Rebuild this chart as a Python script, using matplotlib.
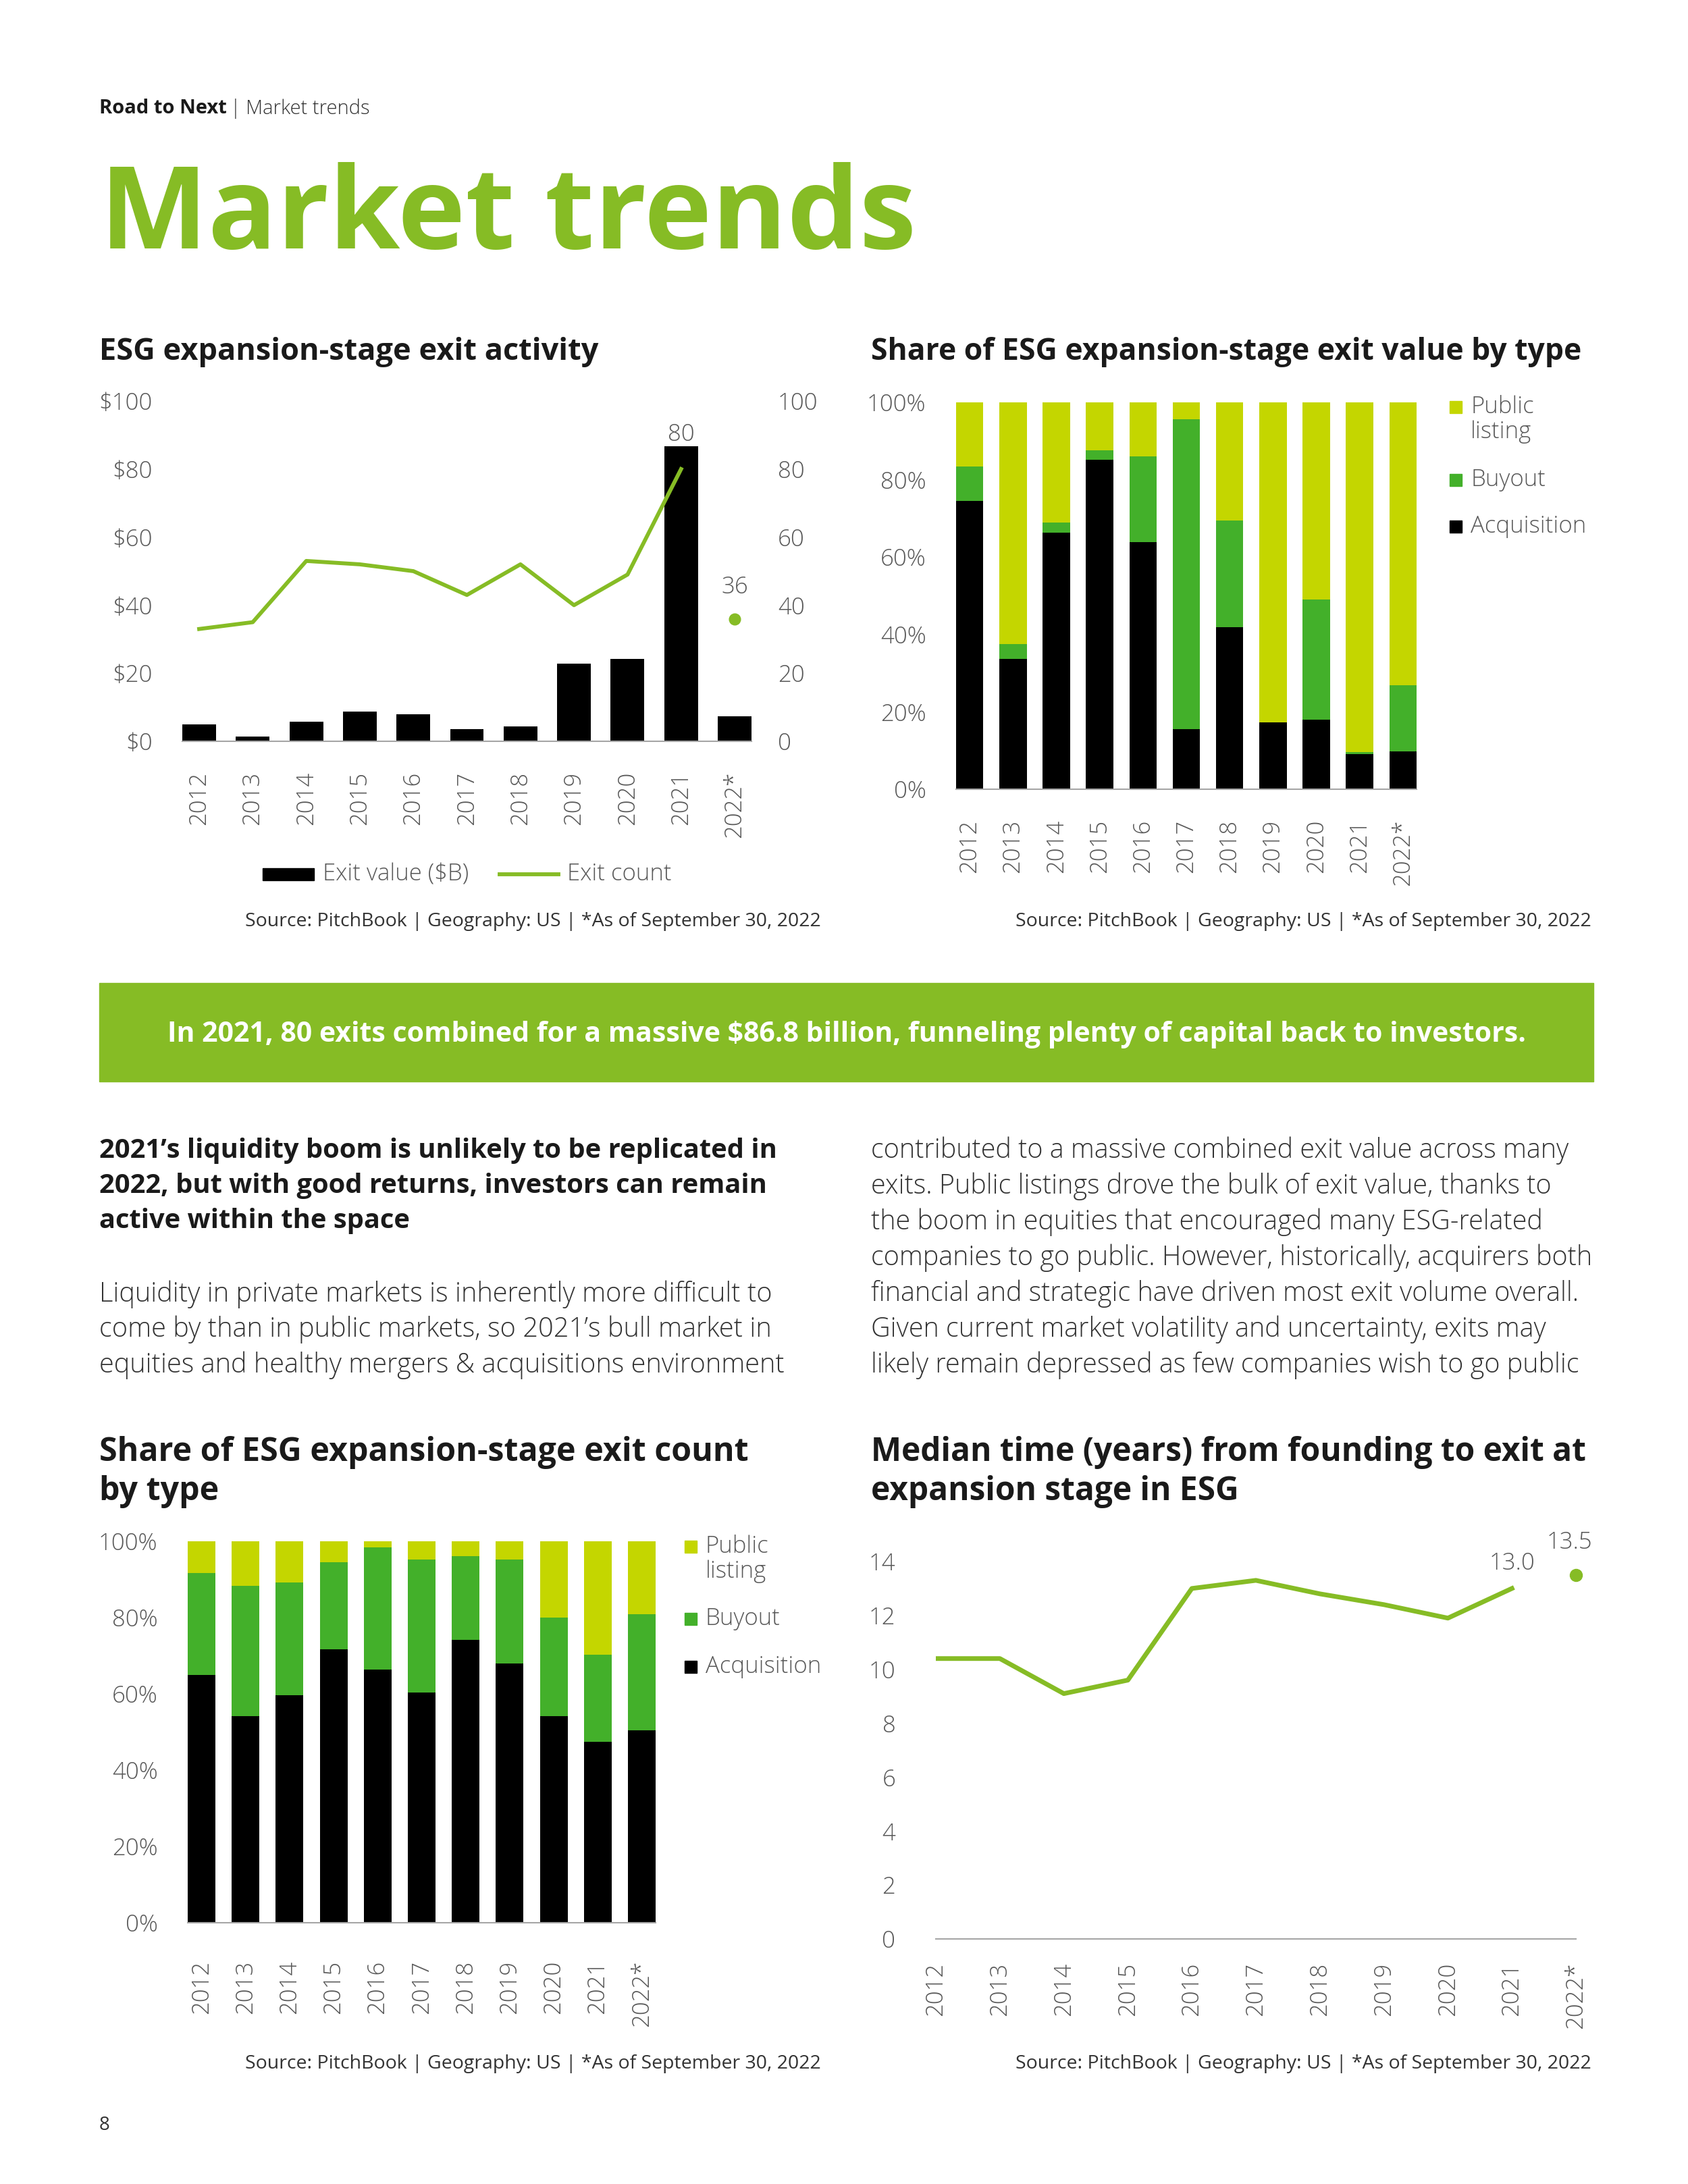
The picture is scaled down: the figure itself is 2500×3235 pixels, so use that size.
import matplotlib
matplotlib.use('Agg')
import matplotlib.pyplot as plt
from matplotlib.patches import Rectangle
from matplotlib.lines import Line2D
import numpy as np

# ---- data ----
years = ['2012', '2013', '2014', '2015', '2016', '2017', '2018', '2019', '2020', '2021', '2022*']

exit_value = [5.0, 1.3, 5.8, 8.7, 8.0, 3.6, 4.3, 22.8, 24.3, 86.8, 7.3]   # $B
exit_count = [33, 35, 53, 52, 50, 43, 52, 40, 49, 80, 36]

# share of exit value by type (%)
value_acq = [74.6, 33.6, 66.4, 85.2, 63.8, 15.5, 41.8, 17.2, 18.0, 9.0, 9.8]
value_buy = [8.8, 4.0, 2.5, 2.4, 22.2, 80.2, 27.6, 0.0, 31.0, 0.6, 17.1]
value_pub = [100 - a - b for a, b in zip(value_acq, value_buy)]

# share of exit count by type (%)
count_acq = [64.9, 54.1, 59.6, 71.7, 66.3, 60.3, 74.1, 67.9, 54.1, 47.4, 50.4]
count_buy = [26.7, 34.3, 29.6, 22.8, 32.1, 35.0, 22.0, 27.4, 25.9, 22.8, 30.4]
count_pub = [100 - a - b for a, b in zip(count_acq, count_buy)]

median_years = [10.4, 10.4, 9.1, 9.6, 13.0, 13.3, 12.8, 12.4, 11.9, 13.0, 13.5]

source_note = "Source: PitchBook | Geography: US | *As of September 30, 2022"

# ---- style ----
GREEN = '#86BC25'
LIME = '#C4D600'
MID = '#43B02A'
GRAY = '#595959'
AXIS = '#A6A6A6'
TICK_FS = 25

plt.rcParams['font.family'] = ['Open Sans', 'DejaVu Sans']

W, H = 2500, 3235
fig = plt.figure(figsize=(W / 100, H / 100), dpi=100)


def fx(x):
    return x / W


def fy(y):
    return 1 - y / H


def add_ax(l, t, r, b):
    return fig.add_axes([l / W, 1 - b / H, (r - l) / W, (b - t) / H])


def style_ax(ax, ypad=32, xpad=32):
    for s in ['top', 'left', 'right']:
        ax.spines[s].set_visible(False)
    ax.spines['bottom'].set_color(AXIS)
    ax.spines['bottom'].set_linewidth(1.5)
    ax.tick_params(axis='both', length=0, labelsize=TICK_FS, labelcolor=GRAY)
    ax.tick_params(axis='y', pad=ypad)
    ax.tick_params(axis='x', pad=xpad)
    ax.set_xticks(range(len(years)))
    ax.set_xticklabels(years, rotation=90)
    for lab in ax.get_xticklabels() + ax.get_yticklabels():
        lab.set_fontweight('light')


def legend_key(x, y, color, label):
    # square key aligned with the first line of the label
    fig.add_artist(Rectangle((fx(x), fy(y + 9)), 18 / W, 18 / H, color=color,
                             transform=fig.transFigure))
    for i, part in enumerate(label.split('\n')):
        fig.text(fx(x + 31), fy(y + i * 37), part, fontsize=TICK_FS, color=GRAY,
                 fontweight='light', va='center', ha='left')


def source(x_right, y):
    fig.text(fx(x_right), fy(y), source_note, fontsize=20.5, color='#333333',
             ha='right', va='center')


x = np.arange(len(years))

# ---- page header ----
fig.text(fx(147), fy(161), "Road to Next", fontsize=21, fontweight='bold', color='#1a1a1a', va='center')
fig.text(fx(341), fy(161), "|", fontsize=21, fontweight='light', color='#333333', va='center')
fig.text(fx(364), fy(161), "Market trends", fontsize=21, fontweight='light', color='#333333', va='center')
fig.text(fx(148), fy(324), "Market trends", fontsize=122, fontweight='bold', color=GREEN, va='center')

# ---- chart 1: exit activity ----
fig.text(fx(147), fy(521), "ESG expansion-stage exit activity", fontsize=32.5, fontweight='bold',
         color='#1a1a1a', va='center')
ax1 = add_ax(270, 594, 1113, 1098)
ax1.bar(x, exit_value, width=0.63, color='black', zorder=2)
ax1.set_ylim(0, 100)
ax1.set_xlim(-0.315, 10.315)
ax1.set_yticks(range(0, 101, 20))
ax1.set_yticklabels([f"${v}" for v in range(0, 101, 20)])
style_ax(ax1)
ax1.annotate(str(exit_count[9]), (9, exit_value[9]), xytext=(0, 0), textcoords='offset points',
             ha='center', va='bottom', fontsize=TICK_FS, color=GRAY, fontweight='light')

ax1b = ax1.twinx()
ax1b.plot(x[:10], exit_count[:10], color=GREEN, lw=4.2, zorder=3)
ax1b.plot(x[10], exit_count[10], 'o', color=GREEN, ms=12)
ax1b.set_ylim(0, 100)
ax1b.set_yticks(range(0, 101, 20))
for s in ['top', 'left', 'right', 'bottom']:
    ax1b.spines[s].set_visible(False)
ax1b.tick_params(axis='y', length=0, labelsize=TICK_FS, labelcolor=GRAY, pad=28)
for lab in ax1b.get_yticklabels():
    lab.set_fontweight('light')
ax1b.annotate(str(exit_count[10]), (x[10], exit_count[10]), xytext=(0, 21), textcoords='offset points',
              ha='center', va='bottom', fontsize=TICK_FS, color=GRAY, fontweight='light')

# legend chart 1
fig.add_artist(Rectangle((fx(389), fy(1304)), 76 / W, 18 / H, color='black', transform=fig.transFigure))
fig.text(fx(478), fy(1295), "Exit value ($B)", fontsize=TICK_FS, color=GRAY, fontweight='light', va='center')
fig.add_artist(Line2D([fx(740), fx(827)], [fy(1295), fy(1295)], color=GREEN, lw=4.2,
                      transform=fig.transFigure))
fig.text(fx(840), fy(1295), "Exit count", fontsize=TICK_FS, color=GRAY, fontweight='light', va='center')
source(1216, 1365)

# ---- chart 2: share of exit value ----
fig.text(fx(1290), fy(521), "Share of ESG expansion-stage exit value by type", fontsize=32,
         fontweight='bold', color='#1a1a1a', va='center')
ax2 = add_ax(1416, 596, 2098, 1169)
ax2.bar(x, value_acq, width=0.63, color='black')
ax2.bar(x, value_buy, width=0.63, bottom=value_acq, color=MID)
ax2.bar(x, value_pub, width=0.63, bottom=[a + b for a, b in zip(value_acq, value_buy)], color=LIME)
ax2.set_ylim(0, 100)
ax2.set_xlim(-0.315, 10.315)
ax2.set_yticks(range(0, 101, 20))
ax2.set_yticklabels([f"{v}%" for v in range(0, 101, 20)])
style_ax(ax2)
legend_key(2147, 603, LIME, "Public\nlisting")
legend_key(2147, 711, MID, "Buyout")
legend_key(2147, 780, 'black', "Acquisition")
source(2357, 1365)

# ---- banner ----
fig.add_artist(Rectangle((fx(147), fy(1602)), (2360 - 147) / W, (1602 - 1456) / H, color=GREEN,
                         transform=fig.transFigure))
fig.text(fx(1254), fy(1532), "In 2021, 80 exits combined for a massive $86.8 billion, funneling plenty of capital back to investors.",
         fontsize=29.5, fontweight='bold', color='white', ha='center', va='center')

# ---- body text ----
left_head = ["2021\u2019s liquidity boom is unlikely to be replicated in",
             "2022, but with good returns, investors can remain",
             "active within the space"]
left_body = ["Liquidity in private markets is inherently more difficult to",
             "come by than in public markets, so 2021\u2019s bull market in",
             "equities and healthy mergers & acquisitions environment"]
right_body = ["contributed to a massive combined exit value across many",
              "exits. Public listings drove the bulk of exit value, thanks to",
              "the boom in equities that encouraged many ESG-related",
              "companies to go public. However, historically, acquirers both",
              "financial and strategic have driven most exit volume overall.",
              "Given current market volatility and uncertainty, exits may",
              "likely remain depressed as few companies wish to go public"]
for i, line in enumerate(left_head):
    fig.text(fx(147), fy(1704 + i * 52.5), line, fontsize=28.7, fontweight='bold', color='#1a1a1a', va='center')
for i, line in enumerate(left_body):
    fig.text(fx(147), fy(1917 + i * 52.5), line, fontsize=28.6, fontweight='light', color='#333333', va='center')
for i, line in enumerate(right_body):
    fig.text(fx(1290), fy(1704 + i * 53), line, fontsize=28.5, fontweight='light', color='#333333', va='center')

# ---- chart 3: share of exit count ----
fig.text(fx(147), fy(2151), "Share of ESG expansion-stage exit count", fontsize=34.8, fontweight='bold',
         color='#1a1a1a', va='center')
fig.text(fx(147), fy(2209), "by type", fontsize=34.8, fontweight='bold', color='#1a1a1a', va='center')
ax3 = add_ax(278, 2283, 971, 2848)
ax3.bar(x, count_acq, width=0.63, color='black')
ax3.bar(x, count_buy, width=0.63, bottom=count_acq, color=MID)
ax3.bar(x, count_pub, width=0.63, bottom=[a + b for a, b in zip(count_acq, count_buy)], color=LIME)
ax3.set_ylim(0, 100)
ax3.set_xlim(-0.315, 10.315)
ax3.set_yticks(range(0, 101, 20))
ax3.set_yticklabels([f"{v}%" for v in range(0, 101, 20)])
style_ax(ax3, xpad=40)
legend_key(1014, 2291, LIME, "Public\nlisting")
legend_key(1014, 2398, MID, "Buyout")
legend_key(1014, 2469, 'black', "Acquisition")
source(1216, 3057)

# ---- chart 4: median time to exit ----
fig.text(fx(1290), fy(2151), "Median time (years) from founding to exit at", fontsize=34.5, fontweight='bold',
         color='#1a1a1a', va='center')
fig.text(fx(1290), fy(2209), "expansion stage in ESG", fontsize=34.5, fontweight='bold', color='#1a1a1a', va='center')
ax4 = add_ax(1386, 2273, 2334, 2872)
ax4.plot(x[:10], median_years[:10], color=GREEN, lw=5)
ax4.plot(x[10], median_years[10], 'o', color=GREEN, ms=13, clip_on=False)
ax4.set_ylim(0, 15)
ax4.set_xlim(0, 10)
ax4.set_yticks(range(0, 15, 2))
style_ax(ax4, ypad=43, xpad=25)
ax4.annotate(f"{median_years[9]:.1f}", (x[9], median_years[9]), xytext=(0, 14), textcoords='offset points',
             ha='center', va='bottom', fontsize=TICK_FS, color=GRAY, fontweight='light')
ax4.annotate(f"{median_years[10]:.1f}", (x[10], median_years[10]), xytext=(-7, 22), textcoords='offset points',
             ha='center', va='bottom', fontsize=TICK_FS, color=GRAY, fontweight='light')
source(2357, 3057)

# page number
fig.text(fx(147), fy(3148), "8", fontsize=20, color='#333333', va='center')

fig.savefig('out.png', dpi=100)
plt.close(fig)
